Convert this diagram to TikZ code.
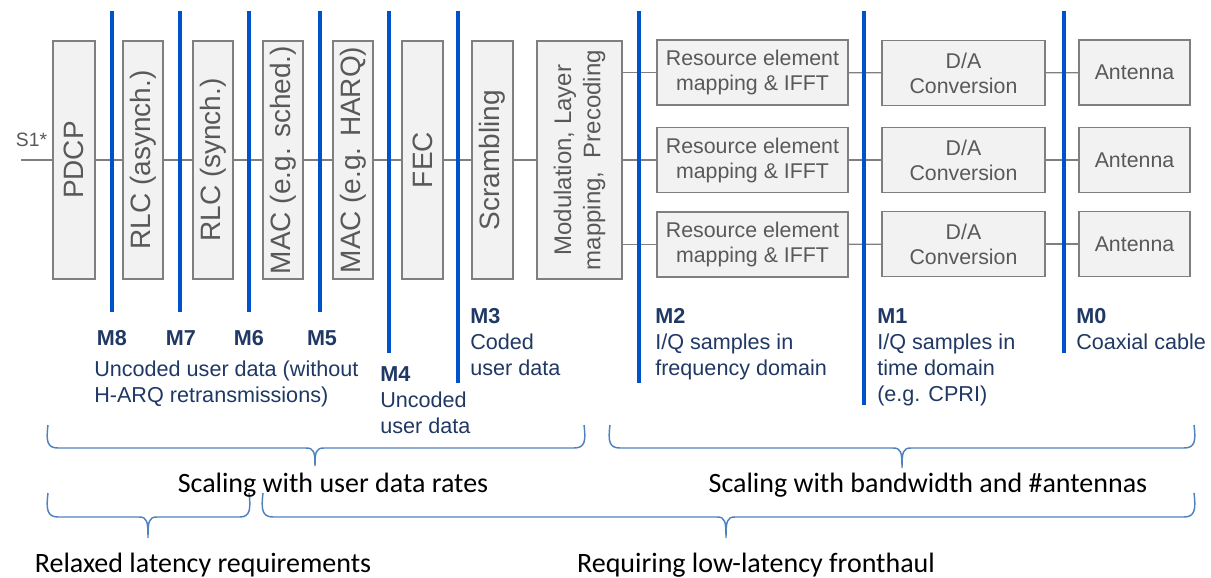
\documentclass[tikz,border=0pt]{standalone}
\usepackage{fontspec}
\setmainfont{Liberation Sans}
\newfontfamily\calibri{Carlito}
\definecolor{boxfill}{RGB}{242,242,242}
\definecolor{boxline}{RGB}{127,127,127}
\definecolor{boxtext}{RGB}{89,89,89}
\definecolor{splitblue}{RGB}{0,82,204}
\definecolor{labelnavy}{RGB}{31,56,100}
\definecolor{bracecol}{RGB}{79,129,189}

\begin{document}
\begin{tikzpicture}[x = 0.75pt, y = -0.75pt]
\tikzstyle{boxStyle} = [draw = boxline, fill = boxfill, line width = 1pt, text = boxtext, inner sep = 0pt]
\tikzstyle{verticalStyle} = [boxStyle, rotate = 90, minimum width = 178.5pt, font = \fontsize{21}{24}\selectfont]
\tikzstyle{flatStyle} = [boxStyle, minimum height = 48.75pt, align = center, font = \fontsize{16}{18.75}\selectfont]
\tikzstyle{linkStyle} = [draw = boxline, line width = 1pt]
\tikzstyle{splitStyle} = [draw = splitblue, line width = 3pt]
\tikzstyle{labelStyle} = [text = labelnavy, inner sep = 0pt, align = left, font = \fontsize{16.2}{19.5}\selectfont]
\tikzstyle{noteStyle} = [inner sep = 0pt, anchor = base, font = \calibri\fontsize{21}{24}\selectfont]
\tikzstyle{braceStyle} = [draw = bracecol, line width = 1.1pt]
\useasboundingbox (0,0) rectangle (1211,578);
% protocol chain
\coordinate (s1) at (21,160);
\node[text = boxtext, inner sep = 0pt, font = \fontsize{14.5}{16}\selectfont] (s1label) at (31.5,140) {S1*};
\node[verticalStyle, minimum height = 31.5pt] (pdcp) at (74,160) {PDCP};
\node[verticalStyle, minimum height = 30pt] (rlca) at (143,160) {RLC (asynch.)};
\node[verticalStyle, minimum height = 30pt] (rlcs) at (213,160) {RLC (synch.)};
\node[verticalStyle, minimum height = 30pt] (macs) at (283,160) {MAC (e.g. sched.)};
\node[verticalStyle, minimum height = 30pt] (mach) at (353,160) {MAC (e.g. HARQ)};
\node[verticalStyle, minimum height = 30.75pt] (fec) at (422.5,160) {FEC};
\node[verticalStyle, minimum height = 30.75pt] (scr) at (492.5,160) {Scrambling};
\node[verticalStyle, minimum height = 63.75pt, align = center, font = \fontsize{18}{22}\selectfont] (mod) at (579.5,160) {Modulation, Layer\\mapping,\ \ Precoding};
% per-antenna rows
\node[flatStyle, minimum width = 143.25pt] (rem1) at (752.5,72.5) {Resource element\\mapping \& IFFT};
\node[flatStyle, minimum width = 143.25pt] (rem2) at (752.5,160) {Resource element\\mapping \& IFFT};
\node[flatStyle, minimum width = 143.25pt] (rem3) at (752.5,244.5) {Resource element\\mapping \& IFFT};
\node[flatStyle, minimum width = 122.25pt] (da1) at (963.5,73) {D/A\\Conversion};
\node[flatStyle, minimum width = 122.25pt] (da2) at (963.5,160) {D/A\\Conversion};
\node[flatStyle, minimum width = 122.25pt] (da3) at (963.5,244) {D/A\\Conversion};
\node[flatStyle, minimum width = 83.25pt] (ant1) at (1134.5,72.5) {Antenna};
\node[flatStyle, minimum width = 83.25pt] (ant2) at (1134.5,160) {Antenna};
\node[flatStyle, minimum width = 83.25pt] (ant3) at (1134.5,244) {Antenna};
\draw[linkStyle] (s1) -- (pdcp);
\draw[linkStyle] (pdcp) -- (rlca);
\draw[linkStyle] (rlca) -- (rlcs);
\draw[linkStyle] (rlcs) -- (macs);
\draw[linkStyle] (macs) -- (mach);
\draw[linkStyle] (mach) -- (fec);
\draw[linkStyle] (fec) -- (scr);
\draw[linkStyle] (scr) -- (mod);
\draw[linkStyle] (mod.south |- rem1) -- (rem1);
\draw[linkStyle] (mod) -- (rem2);
\draw[linkStyle] (mod.south |- rem3) -- (rem3);
\draw[linkStyle] (rem1) -- (da1);
\draw[linkStyle] (rem2) -- (da2);
\draw[linkStyle] (rem3) -- (da3);
\draw[linkStyle] (da1) -- (ant1);
\draw[linkStyle] (da2) -- (ant2);
\draw[linkStyle] (da3) -- (ant3);
% split points
\draw[splitStyle] (112,11) -- (112,312);
\draw[splitStyle] (180,11) -- (180,312);
\draw[splitStyle] (249,11) -- (249,312);
\draw[splitStyle] (320,11) -- (320,312);
\draw[splitStyle] (389,11) -- (389,353);
\draw[splitStyle] (458,11) -- (458,383);
\draw[splitStyle] (639,11) -- (639,383);
\draw[splitStyle] (864,11) -- (864,405);
\draw[splitStyle] (1064,11) -- (1064,353);
% split labels (base = last line)
\node[labelStyle, anchor = base] (m8) at (112,345) {\textbf{M8}};
\node[labelStyle, anchor = base] (m7) at (181,345) {\textbf{M7}};
\node[labelStyle, anchor = base] (m6) at (249,345) {\textbf{M6}};
\node[labelStyle, anchor = base] (m5) at (322,345) {\textbf{M5}};
\node[labelStyle, anchor = base west] (m5text) at (94,402) {Uncoded user data (without\\H-ARQ retransmissions)};
\node[labelStyle, anchor = base west] (m4) at (380,433) {\textbf{M4}\\Uncoded\\user data};
\node[labelStyle, anchor = base west] (m3) at (470,375) {\textbf{M3}\\Coded\\user data};
\node[labelStyle, anchor = base west] (m2) at (655,375) {\textbf{M2}\\I/Q samples in\\frequency domain};
\node[labelStyle, anchor = base west] (m1) at (877,401) {\textbf{M1}\\I/Q samples in\\time domain\\(e.g. CPRI)};
\node[labelStyle, anchor = base west] (m0) at (1076,349) {\textbf{M0}\\Coaxial cable};
% braces
\draw[braceStyle] (48,425) .. controls (46,441) and (47,448) .. (58,448) -- (306,448) .. controls (314,448) and (315,452) .. (315,466) .. controls (315,452) and (316,448) .. (324,448) -- (574,448) .. controls (585,448) and (586,441) .. (584,425);
\draw[braceStyle] (610,425) .. controls (608,441) and (609,448) .. (620,448) -- (893,448) .. controls (901,448) and (902,452) .. (902,468) .. controls (902,452) and (903,448) .. (911,448) -- (1184,448) .. controls (1195,448) and (1196,441) .. (1194,425);
\draw[braceStyle] (48,493) .. controls (46,509) and (47,517) .. (58,517) -- (139,517) .. controls (147,517) and (148,521) .. (148,538) .. controls (148,521) and (149,517) .. (157,517) -- (240,517) .. controls (250,517) and (251,509) .. (249,493);
\draw[braceStyle] (263,493) .. controls (261,509) and (262,517) .. (273,517) -- (717,517) .. controls (725,517) and (726,521) .. (726,538) .. controls (726,521) and (727,517) .. (735,517) -- (1184,517) .. controls (1195,517) and (1196,509) .. (1194,493);
\node[noteStyle] (rates) at (333,492) {Scaling with user data rates};
\node[noteStyle] (antennas) at (928,492) {Scaling with bandwidth and \#antennas};
\node[noteStyle] (relaxed) at (203,572) {Relaxed latency requirements};
\node[noteStyle] (lowlat) at (756,572) {Requiring low-latency fronthaul};
\end{tikzpicture}
\end{document}
